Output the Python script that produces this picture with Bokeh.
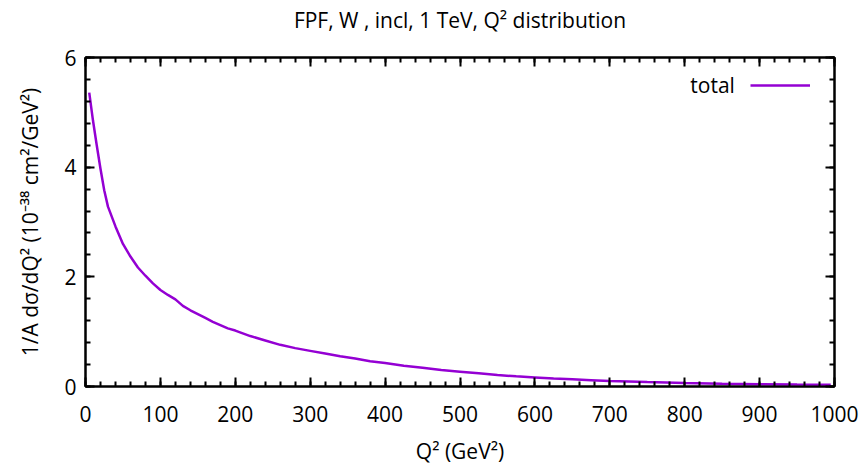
from bokeh.plotting import figure
from bokeh.models import (LinearAxis, SingleIntervalTicker, Legend, LegendItem,
                          Range1d, ColumnDataSource, Label, CustomJSTickFormatter)
from bokeh.embed import file_html
from bokeh.resources import INLINE

# ---- data ----
q2 = [5, 10, 15, 20, 25, 30, 40, 50, 60, 70, 80, 90, 100, 110, 120, 130, 140,
      150, 160, 170, 180, 190, 200, 210, 220, 240, 260, 280, 300, 320, 340,
      360, 380, 400, 425, 450, 475, 500, 525, 550, 575, 600, 625, 650, 675,
      700, 750, 800, 850, 900, 950, 995]
total = [5.36, 4.85, 4.40, 3.97, 3.58, 3.28, 2.92, 2.60, 2.37, 2.17, 2.02,
         1.88, 1.76, 1.67, 1.59, 1.47, 1.39, 1.32, 1.25, 1.18, 1.12, 1.06,
         1.02, 0.97, 0.92, 0.84, 0.76, 0.70, 0.65, 0.60, 0.55, 0.51, 0.46,
         0.43, 0.38, 0.34, 0.30, 0.27, 0.24, 0.21, 0.185, 0.165, 0.145, 0.13,
         0.115, 0.10, 0.08, 0.063, 0.052, 0.043, 0.036, 0.03]

title_text = "FPF, W , incl, 1 TeV, Q\u00b2 distribution"
x_label = "Q\u00b2 (GeV\u00b2)"
y_label = "1/A d\u03c3/dQ\u00b2 (10\u207b\u00b3\u2078 cm\u00b2/GeV\u00b2)"
legend_label = "total"

FONT = "Open Sans"
FS = "21px"
COLOR = "#9400D3"

p = figure(output_backend="svg", toolbar_location=None,
           frame_width=749, frame_height=329,
           min_border_left=85, min_border_right=30,
           min_border_top=57, min_border_bottom=78,
           x_range=Range1d(0, 1000), y_range=Range1d(0, 6),
           x_axis_type=None, y_axis_type=None)
p.grid.visible = False
p.outline_line_color = "black"
p.outline_line_width = 2
p.background_fill_color = "white"
p.border_fill_color = "white"

def style_axis(ax, show_labels):
    ax.axis_line_width = 2
    ax.axis_line_color = "black"
    ax.major_tick_in = 9
    ax.major_tick_out = 0
    ax.minor_tick_in = 5
    ax.minor_tick_out = 0
    ax.major_tick_line_width = 2
    ax.minor_tick_line_width = 2
    ax.major_tick_line_color = "black"
    ax.minor_tick_line_color = "black"
    ax.major_label_text_font = FONT
    ax.major_label_text_font_size = FS
    ax.major_label_text_color = "black"
    ax.axis_label_text_font = FONT
    ax.axis_label_text_font_size = FS
    ax.axis_label_text_font_style = "normal"
    ax.axis_label_text_color = "black"
    if not show_labels:
        ax.formatter = CustomJSTickFormatter(code="return ''")
        ax.major_label_standoff = 0

xb = LinearAxis(ticker=SingleIntervalTicker(interval=100, num_minor_ticks=5),
                axis_label=x_label)
style_axis(xb, True)
xb.major_label_standoff = 19
xb.axis_label_standoff = 12
p.add_layout(xb, "below")

yl = LinearAxis(ticker=SingleIntervalTicker(interval=2, num_minor_ticks=5),
                axis_label=y_label)
style_axis(yl, True)
yl.major_label_standoff = 9
yl.axis_label_standoff = 17
p.add_layout(yl, "left")

# mirrored top axis; its axis label carries the chart title
xa = LinearAxis(ticker=SingleIntervalTicker(interval=100, num_minor_ticks=5),
                axis_label=title_text)
style_axis(xa, False)
xa.axis_label_text_font_size = "21px"
xa.axis_label_standoff = 24
p.add_layout(xa, "above")

yr = LinearAxis(ticker=SingleIntervalTicker(interval=2, num_minor_ticks=5))
style_axis(yr, False)
p.add_layout(yr, "right")

src = ColumnDataSource(dict(q2=q2, total=total))
r = p.line("q2", "total", source=src, line_color=COLOR, line_width=2.5)

leg = Legend(items=[LegendItem(label=" ", renderers=[r])],
             location=(665, 291), orientation="vertical",
             glyph_width=60, glyph_height=20, label_standoff=0,
             label_width=0, padding=0, margin=0, spacing=0,
             border_line_color=None, background_fill_alpha=0,
             label_text_font=FONT, label_text_font_size=FS)
p.add_layout(leg)

p.add_layout(Label(x=867, y=5.49, text=legend_label, text_font=FONT,
                   text_font_size=FS, text_align="right",
                   text_baseline="middle", text_color="black"))

open("out.html", "w").write(file_html(p, INLINE))
